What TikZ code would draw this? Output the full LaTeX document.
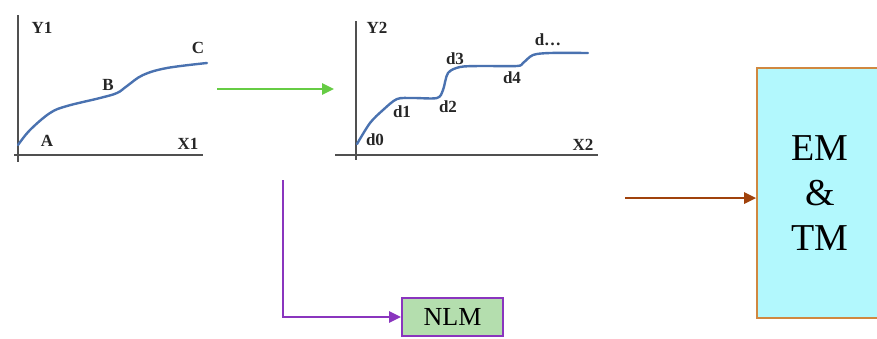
\documentclass[tikz,border=0pt]{standalone}
\usepackage{fontspec}
\setmainfont{Liberation Serif}
\usetikzlibrary{arrows.meta}
\definecolor{curveblue}{HTML}{4A72B0}
\definecolor{axisgray}{HTML}{505050}
\definecolor{arrgreen}{HTML}{66CC44}
\definecolor{arrbrown}{HTML}{A0420C}
\definecolor{arrpurple}{HTML}{8A35BE}
\definecolor{boxcyan}{HTML}{B2F8FD}
\definecolor{boxgreen}{HTML}{B4DEAE}
\definecolor{boxorange}{HTML}{D08840}
\tikzset{
  axisline/.style={draw=axisgray, line width=2pt},
  curveline/.style={draw=curveblue, line width=2.4pt, line cap=round},
  lbl/.style={font=\fontsize{17}{19}\selectfont\bfseries, inner sep=0pt, text=black!85},
  conn/.style={line width=2.6pt, -{Triangle[length=12pt,width=11pt]}},
}
\begin{document}
\begin{tikzpicture}[x=1pt,y=-1pt]
\useasboundingbox (0,0) rectangle (877,338);
\clip (0,0) rectangle (877,338);
% graph 1
\draw[axisline] (18,15) -- (18,162);
\draw[axisline] (14,155) -- (203,155);
\draw[curveline] plot[smooth, tension=0.6] coordinates {(18,145) (30,130) (50,113) (67,106) (100,98) (117,93) (127,86) (143,75) (167,68) (207,63)};
\node[lbl] (y1) at (42,28) {Y1};
\node[lbl] (la) at (47,141) {A};
\node[lbl] (lb) at (108,85) {B};
\node[lbl] (lc) at (198,48) {C};
\node[lbl] (x1) at (188,144) {X1};
% graph 2
\draw[axisline] (356,21) -- (356,160);
\draw[axisline] (335,155) -- (598,155);
\draw[curveline] plot[smooth, tension=0.5] coordinates {(357,144) (370,123) (383,110) (397,99) (413,98) (437,98) (443,90) (448,73) (460,67) (480,66) (517,66) (523,63) (533,55) (550,53) (588,53)};
\node[lbl] (y2) at (377,28) {Y2};
\node[lbl] (d0) at (375,140) {d0};
\node[lbl] (d1) at (402,112) {d1};
\node[lbl] (d2) at (448,107) {d2};
\node[lbl] (d3) at (455,59) {d3};
\node[lbl] (d4) at (512,78) {d4};
\node[lbl] (dd) at (548,40) {d\ldots};
\node[lbl] (x2) at (583,145) {X2};
% boxes
\node[draw=boxorange, line width=1.6pt, fill=boxcyan, minimum width=126pt, minimum height=250pt, inner sep=0pt,
      align=center, font=\fontsize{38}{45}\selectfont] (em) at (820,193) {EM\\\&\\TM};
\node[draw=arrpurple, line width=2pt, fill=boxgreen, minimum width=101pt, minimum height=38pt, inner sep=0pt,
      font=\fontsize{26}{28}\selectfont] (nlm) at (452.5,317) {NLM};
% connectors
\coordinate (g1) at (217,89);
\coordinate (g2) at (334,89);
\draw[conn, arrgreen] (g1) -- (g2);
\coordinate (b1) at (625,198);
\draw[conn, arrbrown] (b1) -- (b1 -| em.west);
\coordinate (p1) at (283,180);
\draw[conn, arrpurple] (p1) |- (nlm.west);
\end{tikzpicture}
\end{document}
